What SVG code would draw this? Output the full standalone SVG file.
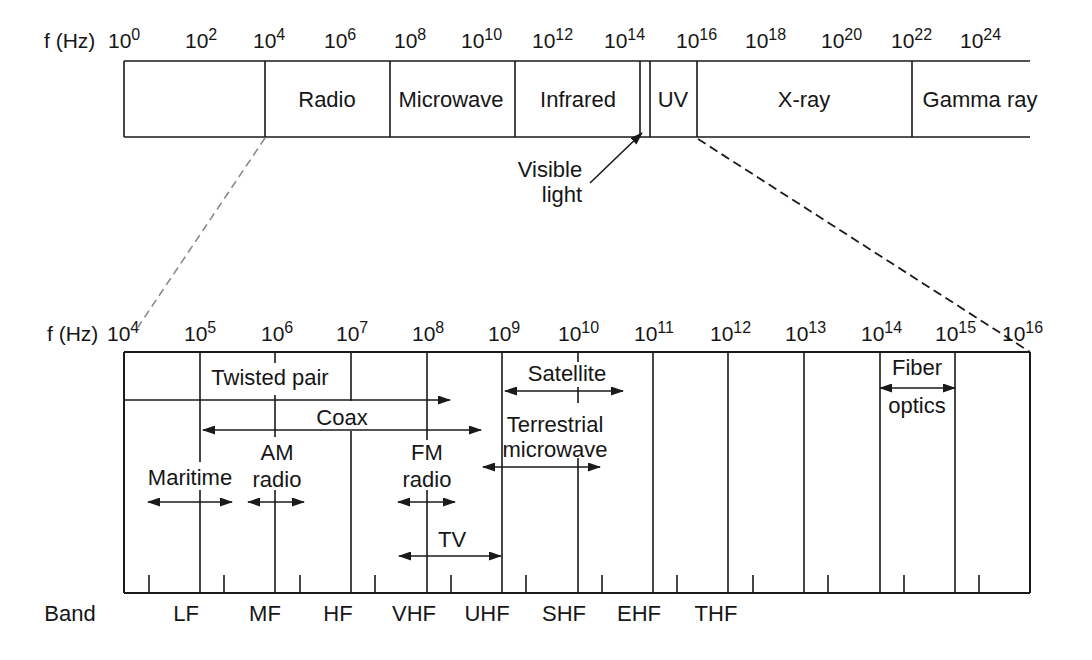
<svg xmlns="http://www.w3.org/2000/svg" width="1092" height="660" viewBox="0 0 1092 660">
<style>
text{font-family:"Liberation Sans",Arial,sans-serif;fill:#161616;font-size:22px}
.ax{font-size:21px}
.sup{font-size:16px}
.mid{text-anchor:middle}
.ln{stroke:#1a1a1a;stroke-width:1.6;fill:none}
.edge{stroke:#1a1a1a;stroke-width:2;fill:none}
.arr{stroke:#1a1a1a;stroke-width:1.6;fill:none}
</style>
<defs>
<marker id="ah" markerUnits="userSpaceOnUse" markerWidth="13" markerHeight="9" refX="12" refY="4.5" orient="auto-start-reverse">
<path d="M0,0 L13,4.5 L0,9 z" fill="#1a1a1a"/>
</marker>
</defs>
<rect width="1092" height="660" fill="#fff"/>

<g id="top-axis">
<text x="44" y="48" class="ax" fill="#333">f (Hz)</text>
<text x="108" y="48" class="ax">10<tspan class="sup" dy="-8">0</tspan></text>
<text x="185" y="48" class="ax">10<tspan class="sup" dy="-8">2</tspan></text>
<text x="253" y="48" class="ax">10<tspan class="sup" dy="-8">4</tspan></text>
<text x="324" y="48" class="ax">10<tspan class="sup" dy="-8">6</tspan></text>
<text x="394" y="48" class="ax">10<tspan class="sup" dy="-8">8</tspan></text>
<text x="461" y="48" class="ax">10<tspan class="sup" dy="-8">10</tspan></text>
<text x="532" y="48" class="ax">10<tspan class="sup" dy="-8">12</tspan></text>
<text x="604" y="48" class="ax">10<tspan class="sup" dy="-8">14</tspan></text>
<text x="676" y="48" class="ax">10<tspan class="sup" dy="-8">16</tspan></text>
<text x="745" y="48" class="ax">10<tspan class="sup" dy="-8">18</tspan></text>
<text x="821" y="48" class="ax">10<tspan class="sup" dy="-8">20</tspan></text>
<text x="891" y="48" class="ax">10<tspan class="sup" dy="-8">22</tspan></text>
<text x="960" y="48" class="ax">10<tspan class="sup" dy="-8">24</tspan></text>
</g>

<g id="spectrum-bar">
<path class="ln" d="M124,61 H1030 M124,137 H1030 M124,61 V137 M265,61 V137 M390,61 V137 M515,61 V137 M640,61 V137 M650,61 V137 M697,61 V137 M912,61 V137"/>
</g>
<g id="band-radio"><text x="327" y="107" class="mid">Radio</text></g>
<g id="band-microwave"><text x="451" y="107" class="mid">Microwave</text></g>
<g id="band-infrared"><text x="578" y="107" class="mid">Infrared</text></g>
<g id="band-uv"><text x="673" y="107" class="mid">UV</text></g>
<g id="band-xray"><text x="804" y="107" class="mid">X-ray</text></g>
<g id="band-gamma"><text x="980" y="107" class="mid">Gamma ray</text></g>
<g id="visible-light">
<text x="550" y="177" class="mid">Visible</text>
<text x="562" y="202" class="mid">light</text>
</g>

<g id="bottom-axis">
<text x="47" y="341" class="ax" fill="#333">f (Hz)</text>
<text x="107" y="341" class="ax">10<tspan class="sup" dy="-8">4</tspan></text>
<text x="184" y="341" class="ax">10<tspan class="sup" dy="-8">5</tspan></text>
<text x="261" y="341" class="ax">10<tspan class="sup" dy="-8">6</tspan></text>
<text x="336" y="341" class="ax">10<tspan class="sup" dy="-8">7</tspan></text>
<text x="412" y="341" class="ax">10<tspan class="sup" dy="-8">8</tspan></text>
<text x="488" y="341" class="ax">10<tspan class="sup" dy="-8">9</tspan></text>
<text x="558" y="341" class="ax">10<tspan class="sup" dy="-8">10</tspan></text>
<text x="634" y="341" class="ax">10<tspan class="sup" dy="-8">11</tspan></text>
<text x="710" y="341" class="ax">10<tspan class="sup" dy="-8">12</tspan></text>
<text x="785" y="341" class="ax">10<tspan class="sup" dy="-8">13</tspan></text>
<text x="861" y="341" class="ax">10<tspan class="sup" dy="-8">14</tspan></text>
<text x="935" y="341" class="ax">10<tspan class="sup" dy="-8">15</tspan></text>
<text x="1002" y="341" class="ax">10<tspan class="sup" dy="-8">16</tspan></text>
</g>

<g id="media-chart">
<path class="edge" d="M124,352 H1030 M124,593 H1030 M124,352 V593 M1030,352 V593"/>
<path class="ln" d="M200,352 V462 M200,490 V593
M275,352 V363 M275,395 V437 M275,490 V593
M351,352 V401 M351,431 V593
M427,352 V440 M427,490 V593
M502,352 V593
M578,352 V362 M578,387 V403 M578,458 V593
M653,352 V593 M728,352 V593 M804,352 V593 M880,352 V593 M955,352 V593"/>
<path class="ln" d="M149,575 V593 M224,575 V593 M300,575 V593 M375,575 V593 M451,575 V593 M526,575 V593 M602,575 V593 M677,575 V593 M753,575 V593 M828,575 V593 M904,575 V593 M979,575 V593"/>
</g>

<g id="twisted-pair"><text x="270" y="385" class="mid">Twisted pair</text></g>
<g id="coax"><text x="342" y="425" class="mid">Coax</text></g>
<g id="satellite"><text x="567" y="381" class="mid">Satellite</text></g>
<g id="terrestrial-microwave">
<text x="555" y="432" class="mid">Terrestrial</text>
<text x="555" y="457" class="mid">microwave</text>
</g>
<g id="maritime"><text x="190" y="485" class="mid">Maritime</text></g>
<g id="am-radio">
<text x="277" y="460" class="mid">AM</text>
<text x="277" y="487" class="mid">radio</text>
</g>
<g id="fm-radio">
<text x="427" y="460" class="mid">FM</text>
<text x="427" y="487" class="mid">radio</text>
</g>
<g id="tv"><text x="452" y="547" class="mid">TV</text></g>
<g id="fiber-optics">
<text x="917" y="375" class="mid">Fiber</text>
<text x="917" y="413" class="mid">optics</text>
</g>

<g id="bands">
<text x="70" y="621" class="mid">Band</text>
<text x="186" y="621" class="mid">LF</text>
<text x="265" y="621" class="mid">MF</text>
<text x="338" y="621" class="mid">HF</text>
<text x="414" y="621" class="mid">VHF</text>
<text x="487" y="621" class="mid">UHF</text>
<text x="564" y="621" class="mid">SHF</text>
<text x="639" y="621" class="mid">EHF</text>
<text x="716" y="621" class="mid">THF</text>
</g>

<g id="connectors">
<line x1="265" y1="138" x2="136" y2="330" stroke="#8a8a8a" stroke-width="1.6" stroke-dasharray="8 5"/>
<line x1="698" y1="139" x2="1030" y2="352" stroke="#1a1a1a" stroke-width="1.8" stroke-dasharray="9 5"/>
<line class="arr" x1="590" y1="183" x2="642" y2="133" marker-end="url(#ah)"/>
<line class="arr" x1="124" y1="400" x2="450" y2="400" marker-end="url(#ah)"/>
<line class="arr" x1="203" y1="430" x2="481" y2="430" marker-start="url(#ah)" marker-end="url(#ah)"/>
<line class="arr" x1="505" y1="391" x2="623" y2="391" marker-start="url(#ah)" marker-end="url(#ah)"/>
<line class="arr" x1="483" y1="467" x2="600" y2="467" marker-start="url(#ah)" marker-end="url(#ah)"/>
<line class="arr" x1="148" y1="502" x2="232" y2="502" marker-start="url(#ah)" marker-end="url(#ah)"/>
<line class="arr" x1="248" y1="502" x2="304" y2="502" marker-start="url(#ah)" marker-end="url(#ah)"/>
<line class="arr" x1="398" y1="502" x2="455" y2="502" marker-start="url(#ah)" marker-end="url(#ah)"/>
<line class="arr" x1="399" y1="556" x2="501" y2="556" marker-start="url(#ah)" marker-end="url(#ah)"/>
<line class="arr" x1="880" y1="388" x2="955" y2="388" marker-start="url(#ah)" marker-end="url(#ah)"/>
</g>
</svg>
